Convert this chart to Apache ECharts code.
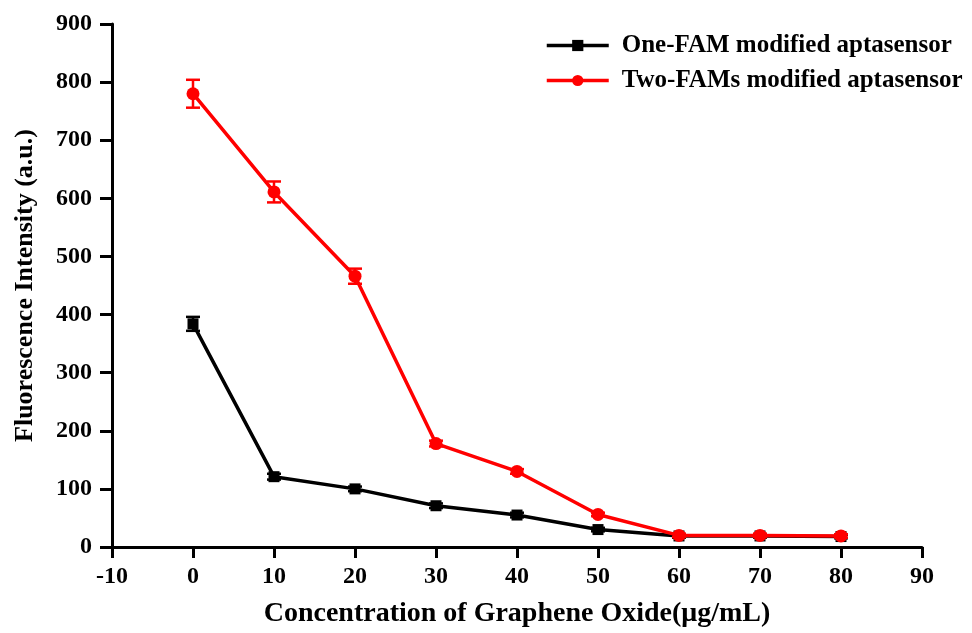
<!DOCTYPE html>
<html>
<head>
<meta charset="utf-8">
<script src="https://cdn.jsdelivr.net/npm/echarts@6/dist/echarts.min.js"></script>
<style>
  html, body { margin: 0; padding: 0; background: #fff; }
  #chart { width: 972px; height: 633px; }
</style>
</head>
<body>
<div id="chart"></div>
<script>
// Graphene oxide concentration (µg/mL)
const concentrations = [0, 10, 20, 30, 40, 50, 60, 70, 80];

// One-FAM modified aptasensor: fluorescence intensity and error
const oneFamValues = [384, 121, 100, 71, 55, 30, 19, 19, 18];
const oneFamErrors = [12, 5, 4, 4, 4, 3, 3, 3, 3];

// Two-FAMs modified aptasensor: fluorescence intensity and error
const twoFamValues = [780, 611, 466, 178, 130, 56, 20, 20, 19];
const twoFamErrors = [24, 18, 13, 5, 4, 3, 3, 3, 3];

const seriesNames = ['One-FAM modified aptasensor', 'Two-FAMs modified aptasensor'];
const fontFamily = '"Liberation Serif", "Times New Roman", serif';

function pairs(values) {
  return concentrations.map((c, i) => [c, values[i]]);
}
function errorRows(values, errors) {
  return concentrations.map((c, i) => [c, values[i] - errors[i], values[i] + errors[i]]);
}

// Vertical error bar with horizontal caps at both ends
function errorBarRenderer(color) {
  return function (params, api) {
    const x = api.value(0);
    const lo = api.coord([x, api.value(1)]);
    const hi = api.coord([x, api.value(2)]);
    const half = 7;
    const style = { stroke: color, lineWidth: 2.5, fill: null };
    return {
      type: 'group',
      children: [
        { type: 'line', shape: { x1: lo[0], y1: lo[1], x2: hi[0], y2: hi[1] }, style },
        { type: 'line', shape: { x1: lo[0] - half, y1: lo[1], x2: lo[0] + half, y2: lo[1] }, style },
        { type: 'line', shape: { x1: hi[0] - half, y1: hi[1], x2: hi[0] + half, y2: hi[1] }, style }
      ]
    };
  };
}

const chart = echarts.init(document.getElementById('chart'), null, { renderer: 'canvas' });

const axisText = { color: '#000', fontFamily, fontWeight: 'bold', fontSize: 24 };

chart.setOption({
  backgroundColor: '#fff',
  animation: false,
  grid: { left: 112, right: 50, top: 24, bottom: 86, containLabel: false },
  legend: {
    orient: 'vertical',
    left: 540,
    top: 28,
    itemWidth: 62,
    itemHeight: 14,
    itemGap: 10,
    data: seriesNames,
    lineStyle: { width: 3.5 },
    textStyle: { color: '#000', fontFamily, fontWeight: 'bold', fontSize: 25, padding: [0, 0, 0, 8] }
  },
  xAxis: {
    type: 'value',
    min: -10,
    max: 90,
    interval: 10,
    name: 'Concentration of Graphene Oxide(μg/mL)',
    nameLocation: 'middle',
    nameGap: 53,
    nameTextStyle: { color: '#000', fontFamily, fontWeight: 'bold', fontSize: 28 },
    axisLine: { onZero: false, lineStyle: { color: '#000', width: 3 } },
    axisTick: { show: true, inside: false, length: 11, lineStyle: { color: '#000', width: 3 } },
    axisLabel: Object.assign({ margin: 18 }, axisText),
    splitLine: { show: false }
  },
  yAxis: {
    type: 'value',
    min: 0,
    max: 900,
    interval: 100,
    name: 'Fluorescence Intensity (a.u.)',
    nameLocation: 'middle',
    nameGap: 74,
    nameTextStyle: { color: '#000', fontFamily, fontWeight: 'bold', fontSize: 26 },
    axisLine: { show: true, onZero: false, lineStyle: { color: '#000', width: 3 } },
    axisTick: { show: true, inside: false, length: 12, lineStyle: { color: '#000', width: 3 } },
    axisLabel: Object.assign({ margin: 20 }, axisText),
    splitLine: { show: false }
  },
  series: [
    {
      name: seriesNames[0],
      type: 'line',
      data: pairs(oneFamValues),
      symbol: 'rect',
      symbolSize: 11,
      lineStyle: { color: '#000', width: 3.5 },
      itemStyle: { color: '#000' },
      z: 3
    },
    {
      type: 'custom',
      data: errorRows(oneFamValues, oneFamErrors),
      renderItem: errorBarRenderer('#000'),
      encode: { x: 0, y: [1, 2] },
      silent: true,
      z: 3
    },
    {
      name: seriesNames[1],
      type: 'line',
      data: pairs(twoFamValues),
      symbol: 'circle',
      symbolSize: 13,
      lineStyle: { color: '#f00', width: 3.5 },
      itemStyle: { color: '#f00' },
      z: 4
    },
    {
      type: 'custom',
      data: errorRows(twoFamValues, twoFamErrors),
      renderItem: errorBarRenderer('#f00'),
      encode: { x: 0, y: [1, 2] },
      silent: true,
      z: 4
    }
  ]
});
</script>
</body>
</html>
